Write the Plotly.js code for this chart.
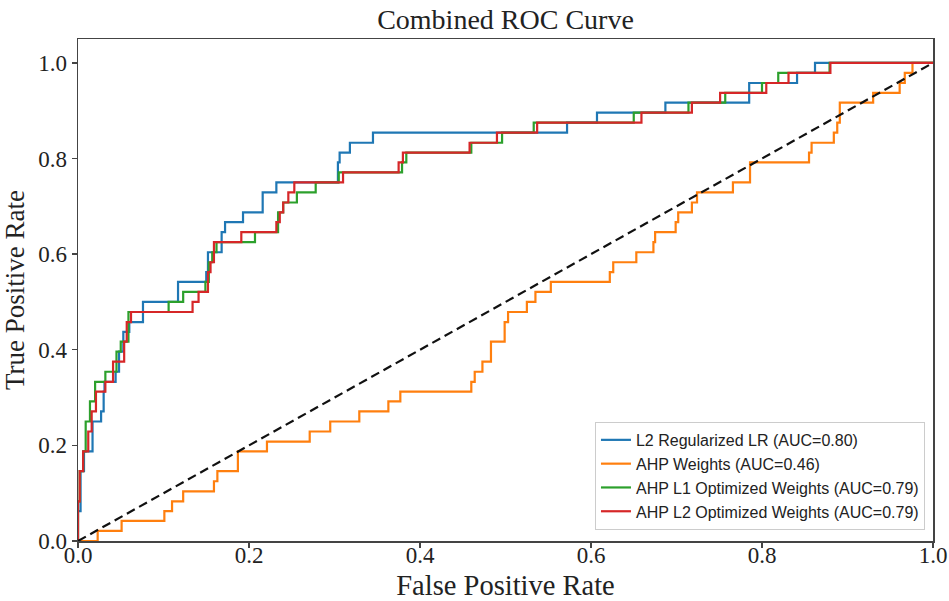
<!DOCTYPE html>
<html>
<head>
<meta charset="utf-8">
<script src="https://cdn.plot.ly/plotly-3.0.1.min.js"></script>
<style>html,body{margin:0;padding:0;background:#fff;}#chart{width:949px;height:601px;}</style>
</head>
<body>
<div id="chart"></div>
<script>
// Series names
const seriesNames = [
  "L2 Regularized LR (AUC=0.80)",
  "AHP Weights (AUC=0.46)",
  "AHP L1 Optimized Weights (AUC=0.79)",
  "AHP L2 Optimized Weights (AUC=0.79)"
];

// ROC corner points (fpr where tpr rises, tpr after the rise)
const fprL2LR = [0, 0, 0.003, 0.007, 0.017, 0.027, 0.03, 0.031, 0.044, 0.048, 0.053, 0.06, 0.076, 0.117, 0.15, 0.152, 0.168, 0.172, 0.193, 0.216, 0.232, 0.304, 0.306, 0.318, 0.345, 0.572, 0.607, 0.687, 0.785, 0.841, 0.862, 1];
const tprL2LR = [0, 0.0625, 0.146, 0.1875, 0.25, 0.271, 0.3125, 0.333, 0.354, 0.396, 0.4375, 0.458, 0.5, 0.542, 0.5625, 0.604, 0.646, 0.667, 0.6875, 0.729, 0.75, 0.792, 0.8125, 0.833, 0.854, 0.875, 0.896, 0.917, 0.958, 0.979, 1, 1];

const fprAHP = [0, 0.023, 0.051, 0.101, 0.11, 0.123, 0.159, 0.163, 0.187, 0.221, 0.271, 0.295, 0.329, 0.363, 0.377, 0.46, 0.464, 0.473, 0.483, 0.499, 0.503, 0.525, 0.535, 0.553, 0.622, 0.626, 0.653, 0.673, 0.675, 0.699, 0.702, 0.718, 0.724, 0.766, 0.786, 0.855, 0.858, 0.884, 0.888, 0.891, 0.93, 0.961, 0.967, 0.976, 1];
const tprAHP = [0, 0.021, 0.042, 0.0625, 0.083, 0.104, 0.125, 0.146, 0.1875, 0.208, 0.229, 0.25, 0.271, 0.292, 0.3125, 0.333, 0.354, 0.375, 0.417, 0.458, 0.479, 0.5, 0.521, 0.542, 0.5625, 0.583, 0.604, 0.625, 0.646, 0.667, 0.6875, 0.708, 0.729, 0.75, 0.792, 0.8125, 0.833, 0.854, 0.875, 0.917, 0.9375, 0.958, 0.979, 1, 1];

const fprAHPL1 = [0, 0, 0.002, 0.006, 0.009, 0.014, 0.02, 0.032, 0.045, 0.05, 0.059, 0.106, 0.123, 0.149, 0.153, 0.157, 0.162, 0.207, 0.234, 0.24, 0.256, 0.278, 0.305, 0.379, 0.384, 0.46, 0.496, 0.533, 0.65, 0.714, 0.757, 0.8, 0.819, 0.879, 1];
const tprAHPL1 = [0, 0.083, 0.146, 0.1875, 0.25, 0.292, 0.333, 0.354, 0.396, 0.417, 0.479, 0.5, 0.521, 0.542, 0.583, 0.604, 0.625, 0.646, 0.6875, 0.708, 0.729, 0.75, 0.771, 0.792, 0.8125, 0.833, 0.854, 0.875, 0.896, 0.917, 0.9375, 0.958, 0.979, 1, 1];

const fprAHPL2 = [0, 0, 0.002, 0.006, 0.012, 0.016, 0.021, 0.032, 0.041, 0.054, 0.057, 0.062, 0.134, 0.141, 0.152, 0.155, 0.159, 0.191, 0.232, 0.236, 0.24, 0.246, 0.253, 0.31, 0.375, 0.38, 0.458, 0.49, 0.537, 0.659, 0.718, 0.751, 0.805, 0.831, 0.88, 1];
const tprAHPL2 = [0, 0.083, 0.146, 0.1875, 0.229, 0.271, 0.3125, 0.333, 0.375, 0.417, 0.458, 0.479, 0.5, 0.521, 0.5625, 0.583, 0.625, 0.646, 0.667, 0.6875, 0.708, 0.729, 0.75, 0.771, 0.792, 0.8125, 0.833, 0.854, 0.875, 0.896, 0.917, 0.9375, 0.958, 0.979, 1, 1];

const chanceX = [0, 1];
const chanceY = [0, 1];

const tickVals = [0, 0.2, 0.4, 0.6, 0.8, 1.0];
const tickText = ["0.0", "0.2", "0.4", "0.6", "0.8", "1.0"];

const colors = ["#1f77b4", "#ff7f0e", "#2ca02c", "#d62728"];

const curves = [
  [fprL2LR, tprL2LR],
  [fprAHP, tprAHP],
  [fprAHPL1, tprAHPL1],
  [fprAHPL2, tprAHPL2]
];

const traces = curves.map((c, i) => ({
  x: c[0], y: c[1], type: "scatter", mode: "lines",
  name: seriesNames[i],
  line: {color: colors[i], width: 2.2, shape: "hv"}
}));
traces.push({
  x: chanceX, y: chanceY, type: "scatter", mode: "lines",
  showlegend: false, hoverinfo: "skip",
  line: {color: "#111", width: 2.2, dash: "9px,5px"}
});

const serif = "Liberation Serif, Times New Roman, serif";
const axisCommon = {
  showgrid: false, zeroline: false,
  showline: true, mirror: true, linecolor: "#444", linewidth: 1.5,
  ticks: "outside", ticklen: 5, tickwidth: 1.3, tickcolor: "#444",
  tickvals: tickVals, ticktext: tickText,
  tickfont: {family: serif, size: 23, color: "#222"},
  automargin: false
};

const layout = {
  width: 949, height: 601,
  paper_bgcolor: "#fff", plot_bgcolor: "#fff",
  margin: {l: 78, r: 16, t: 39, b: 60},
  title: {text: "Combined ROC Curve", x: 0.5, xref: "paper", xanchor: "center",
          y: 0.968, yref: "container", yanchor: "middle",
          font: {family: serif, size: 28, color: "#222"}},
  xaxis: Object.assign({}, axisCommon, {
    range: [0, 1],
    ticklabelstandoff: -12,
    title: {text: "False Positive Rate", standoff: 16, font: {family: serif, size: 28.5, color: "#222"}}
  }),
  yaxis: Object.assign({}, axisCommon, {
    range: [0, 1.05],
    title: {text: "True Positive Rate", standoff: 7, font: {family: serif, size: 27, color: "#222"}}
  }),
  legend: {
    x: 0.9906, xanchor: "right", y: 0.022, yanchor: "bottom",
    bgcolor: "rgba(255,255,255,0.85)", bordercolor: "#cccccc", borderwidth: 1,
    font: {family: "Liberation Sans, Arial, sans-serif", size: 16, color: "#222"},
    tracegroupgap: 0
  },
  showlegend: true
};

Plotly.newPlot("chart", traces, layout, {displayModeBar: false, staticPlot: true});
</script>
</body>
</html>
